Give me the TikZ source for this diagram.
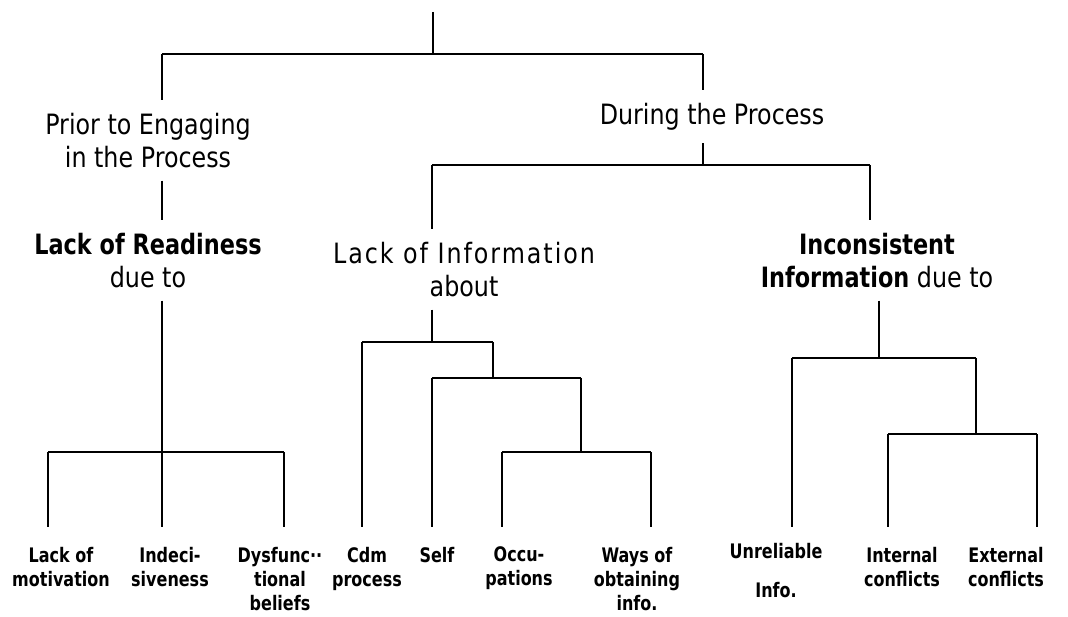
\documentclass[tikz,border=0pt]{standalone}
\usepackage{fontspec}
\setmainfont[FakeStretch=0.85,BoldFeatures={FakeStretch=0.8}]{DejaVu Sans}
\begin{document}
\begin{tikzpicture}[x=1pt,y=-1pt,
    link/.style={line width=1.2pt},
    boldlink/.style={line width=1.8pt},
    lbl/.style={inner sep=0pt,outer ysep=13pt,anchor=north,align=center,
      font=\fontsize{28}{33}\selectfont},
    leaf/.style={inner sep=0pt,outer ysep=20pt,anchor=north,align=center,
      font=\bfseries\fontsize{20}{24}\selectfont}]
  \useasboundingbox (0,0) rectangle (1068,617);
  % junctions
  \coordinate (root) at (433,12);
  \coordinate (top) at (433,54);
  \coordinate (pre) at (162,54);
  \coordinate (dur) at (703,54);
  \coordinate (durj) at (703,165);
  \coordinate (lii) at (432,165);
  \coordinate (inc) at (870,165);
  \coordinate (r0) at (162,452);
  \coordinate (r1) at (48,452);
  \coordinate (r2) at (284,452);
  \coordinate (i0) at (432,342);
  \coordinate (i1) at (362,342);
  \coordinate (i2) at (493,342);
  \coordinate (i3) at (432,378);
  \coordinate (i4) at (581,378);
  \coordinate (i5) at (581,452);
  \coordinate (i6) at (502,452);
  \coordinate (i7) at (651,452);
  \coordinate (c0) at (879,358);
  \coordinate (c1) at (792,358);
  \coordinate (c2) at (976,358);
  \coordinate (c3) at (976,434);
  \coordinate (c4) at (888,434);
  \coordinate (c5) at (1037,434);
  % labels
  \node[lbl] (prior) at (148,100) {Prior to Engaging\\in the Process};
  \node[lbl] (during) at (712,90) {During the Process};
  \node[lbl] (ready) at (148,220) {\textbf{Lack of Readiness}\\due to};
  \node[lbl] (info) at (464,229) {{\addfontfeatures{LetterSpace=7}Lack of Information}\\about};
  \node[lbl] (incons) at (877,220) {\textbf{Inconsistent}\\\textbf{Information} due to};
  % leaves
  \node[leaf] (motiv) at (61,527) {Lack of\\motivation};
  \node[leaf] (indec) at (170,527) {Indeci-\\siveness};
  \node[leaf] (dysf) at (280,527) {Dysfunc··\\tional\\beliefs};
  \node[leaf] (cdm) at (367,527) {Cdm\\process};
  \node[leaf] (self) at (437,527) {Self};
  \node[leaf] (occu) at (519,527) {Occu-\\pations};
  \node[leaf] (ways) at (637,527) {Ways of\\obtaining\\info.};
  \node[leaf,outer ysep=16pt] (unrel) at (776,527) {Unreliable\\[15pt]Info.};
  \node[leaf] (internal) at (902,527) {Internal\\conflicts};
  \node[leaf] (external) at (1006,527) {External\\conflicts};
  % top levels
  \draw[link] (root) -- (top);
  \draw[link] (pre) -- (dur);
  \draw[link] (pre) -- (pre |- prior.north);
  \draw[link] (dur) -- (dur |- during.north);
  \draw[link] (pre |- prior.south) -- (pre |- ready.north);
  \draw[link] (dur |- during.south) -- (durj);
  \draw[link] (lii) -- (inc);
  \draw[boldlink] (lii) -- (lii |- info.north);
  \draw[boldlink] (inc) -- (inc |- incons.north);
  % readiness
  \draw[link] (r0 |- ready.south) -- (r0 |- indec.north);
  \draw[link] (r1) -- (r2);
  \draw[link] (r1) -- (r1 |- motiv.north);
  \draw[link] (r2) -- (r2 |- dysf.north);
  % information
  \draw[boldlink] (i0 |- info.south) -- (i0);
  \draw[boldlink] (i1) -- (i2);
  \draw[link] (i1) -- (i1 |- cdm.north);
  \draw[link] (i2) -- (i2 |- i3);
  \draw[link] (i3) -- (i4);
  \draw[boldlink] (i3) -- (i3 |- self.north);
  \draw[link] (i4) -- (i5);
  \draw[boldlink] (i6) -- (i7);
  \draw[boldlink] (i6) -- (i6 |- occu.north);
  \draw[boldlink] (i7) -- (i7 |- ways.north);
  % inconsistent
  \draw[boldlink] (c0 |- incons.south) -- (c0);
  \draw[boldlink] (c1) -- (c2);
  \draw[link] (c1) -- (c1 |- unrel.north);
  \draw[boldlink] (c2) -- (c3);
  \draw[boldlink] (c4) -- (c5);
  \draw[link] (c4) -- (c4 |- internal.north);
  \draw[link] (c5) -- (c5 |- external.north);
\end{tikzpicture}
\end{document}
